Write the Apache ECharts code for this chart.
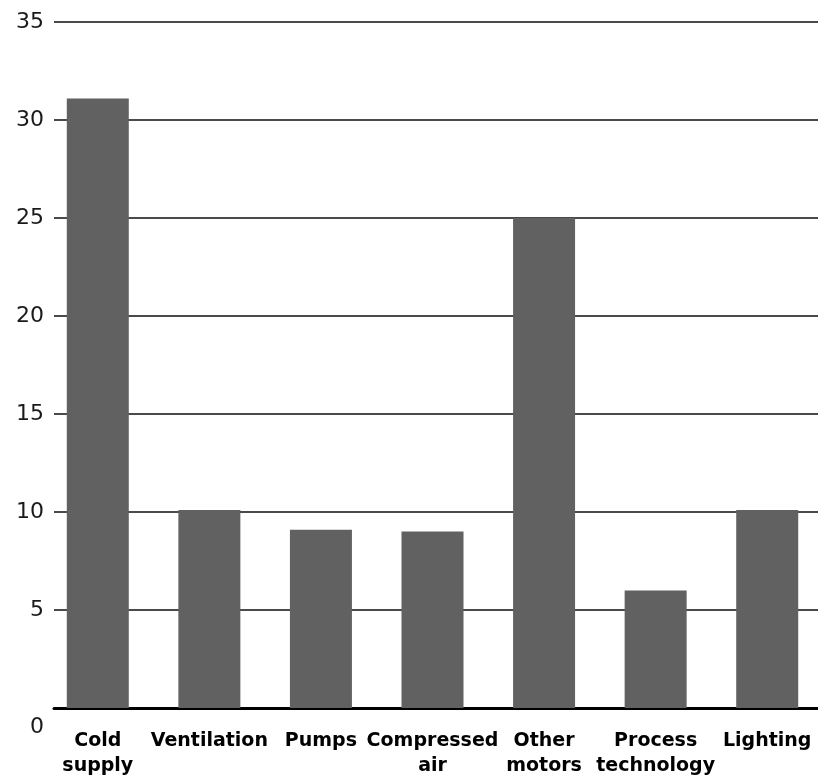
<!DOCTYPE html>
<html>
<head>
<meta charset="utf-8">
<script src="https://cdn.jsdelivr.net/npm/echarts@6/dist/echarts.min.js"></script>
<style>
html,body{margin:0;padding:0;background:#fff;}
#chart{width:818px;height:781px;}
</style>
</head>
<body>
<div id="chart"></div>
<script>
const categories = ['Cold\nsupply', 'Ventilation', 'Pumps', 'Compressed\nair', 'Other\nmotors', 'Process\ntechnology', 'Lighting'];
const values = [31.1, 10.1, 9.1, 9.0, 25, 6.0, 10.1];
const yMin = 0, yMax = 35, yStep = 5;

const chart = echarts.init(document.getElementById('chart'), null, {renderer: 'canvas'});
const TOP = 22, BOTTOM = 73;
chart.setOption({
  backgroundColor: '#ffffff',
  animation: false,
  grid: [
    {left: 54, right: 0, top: TOP, bottom: BOTTOM, outerBoundsMode: 'none'},
    {left: 42, width: 781, top: TOP, bottom: BOTTOM, outerBoundsMode: 'none'}
  ],
  xAxis: [
    {gridIndex: 0, type: 'value', min: 0, max: 1, show: true,
     axisLine: {show: true, onZero: false, lineStyle: {color: '#000', width: 3}},
     axisTick: {show: false}, axisLabel: {show: false}, splitLine: {show: false}},
    {gridIndex: 1, type: 'category', data: categories,
     axisLine: {show: false}, axisTick: {show: false}, splitLine: {show: false},
     axisLabel: {margin: 21, interval: 0, fontFamily: 'DejaVu Sans', fontWeight: 'bold',
       fontSize: 19, lineHeight: 25, color: '#000', align: 'center'}}
  ],
  yAxis: [
    {gridIndex: 0, type: 'value', min: yMin, max: yMax, interval: yStep,
     axisLine: {show: false}, axisTick: {show: false},
     splitLine: {show: true, lineStyle: {color: '#4a4a4a', width: 2}},
     axisLabel: {margin: 10, fontFamily: 'DejaVu Sans', fontSize: 22, color: '#1a1a1a',
       formatter: function (v) { return v === 0 ? '{z|0}' : String(v); },
       rich: {z: {fontFamily: 'DejaVu Sans', fontSize: 22, color: '#1a1a1a', padding: [38, 0, 0, 0]}}}},
    {gridIndex: 1, type: 'value', min: yMin, max: yMax, interval: yStep, show: false,
     splitLine: {show: false}}
  ],
  series: [{
    type: 'bar', xAxisIndex: 1, yAxisIndex: 1, data: values, barWidth: 62,
    itemStyle: {color: '#616161'}, z: 3
  }]
});
</script>
</body>
</html>
